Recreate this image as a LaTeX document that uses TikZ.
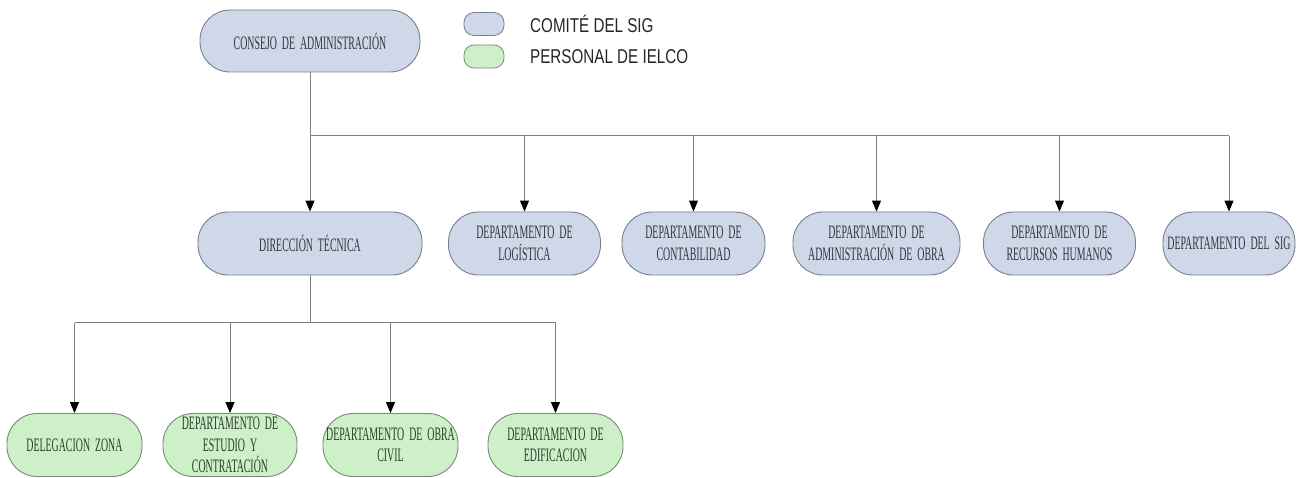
\documentclass[tikz,border=0pt]{standalone}
\usepackage{fontspec}
\usetikzlibrary{arrows.meta}
\newfontfamily\boxfont[FakeStretch=0.52,WordSpace=2]{Liberation Serif}
\newfontfamily\legfont[FakeStretch=0.76]{Liberation Sans}
\definecolor{bluefill}{RGB}{206,216,232}
\definecolor{blueedge}{RGB}{120,128,140}
\definecolor{greenfill}{RGB}{206,240,200}
\definecolor{greenedge}{RGB}{118,140,116}
\definecolor{linegray}{RGB}{128,128,128}
\definecolor{boxtext}{RGB}{50,54,60}
\definecolor{greentext}{RGB}{46,60,46}
\tikzset{
  box/.style={draw, line width=0.9pt, rounded corners=30pt, align=center, inner sep=1pt,
    minimum height=63pt, font=\boxfont\fontsize{19}{21.5}\selectfont},
  bluebox/.style={box, fill=bluefill, draw=blueedge, text=boxtext},
  greenbox/.style={box, fill=greenfill, draw=greenedge, text=greentext},
  legbox/.style={draw, line width=0.8pt, rounded corners=10pt, minimum width=40pt, minimum height=23pt},
  legtext/.style={anchor=west, inner sep=0pt, text=black!85, font=\legfont\fontsize{20}{22}\selectfont},
  conn/.style={draw=linegray, line width=1pt},
  arr/.style={conn, -{Triangle[width=9pt,length=11pt,color=black]}}
}
\begin{document}
\begin{tikzpicture}[x=1pt,y=-1pt]
\useasboundingbox (0,0) rectangle (1302,478);
% legend
\node[legbox, fill=bluefill, draw=blueedge] (lgb) at (484,24) {};
\node[legbox, fill=greenfill, draw=greenedge] (lgg) at (484,56.5) {};
\node[legtext] (lgbt) at (530,24) {COMITÉ DEL SIG};
\node[legtext] (lggt) at (530,57) {PERSONAL DE IELCO};
% top
\node[bluebox, minimum width=220pt, minimum height=62pt] (cons) at (310,41) {CONSEJO DE ADMINISTRACIÓN};
% second row
\node[bluebox, minimum width=224pt] (dt) at (310,243.5) {DIRECCIÓN TÉCNICA};
\node[bluebox, minimum width=152pt] (log) at (524.5,243.5) {DEPARTAMENTO DE\\LOGÍSTICA};
\node[bluebox, minimum width=143pt] (cont) at (693.5,243.5) {DEPARTAMENTO DE\\CONTABILIDAD};
\node[bluebox, minimum width=167pt] (adm) at (876.5,243.5) {DEPARTAMENTO DE\\ADMINISTRACIÓN DE OBRA};
\node[bluebox, minimum width=152pt] (rrhh) at (1059.5,243.5) {DEPARTAMENTO DE\\RECURSOS HUMANOS};
\node[bluebox, minimum width=132pt] (sig) at (1229,243.5) {DEPARTAMENTO DEL SIG};
% third row
\node[greenbox, minimum width=135pt] (del) at (74.5,445) {DELEGACION ZONA};
\node[greenbox, minimum width=134pt] (est) at (230,445) {DEPARTAMENTO DE\\ESTUDIO Y\\CONTRATACIÓN};
\node[greenbox, minimum width=135pt] (obra) at (390.5,445) {DEPARTAMENTO DE OBRA\\CIVIL};
\node[greenbox, minimum width=135pt] (edif) at (555.5,445) {DEPARTAMENTO DE\\EDIFICACION};
% connectors, first level
\coordinate (bus1) at (310,136);
\draw[conn] (cons.south) -- (bus1) -- (bus1 -| sig.north);
\draw[arr] (bus1) -- (dt.north);
\draw[arr] (bus1 -| log.north) -- (log.north);
\draw[arr] (bus1 -| cont.north) -- (cont.north);
\draw[arr] (bus1 -| adm.north) -- (adm.north);
\draw[arr] (bus1 -| rrhh.north) -- (rrhh.north);
\draw[arr] (bus1 -| sig.north) -- (sig.north);
% connectors, second level
\coordinate (bus2) at (310,323);
\draw[conn] (dt.south) -- (bus2);
\draw[conn] (bus2 -| del.north) -- (bus2 -| edif.north);
\draw[arr] (bus2 -| del.north) -- (del.north);
\draw[arr] (bus2 -| est.north) -- (est.north);
\draw[arr] (bus2 -| obra.north) -- (obra.north);
\draw[arr] (bus2 -| edif.north) -- (edif.north);
\end{tikzpicture}
\end{document}
